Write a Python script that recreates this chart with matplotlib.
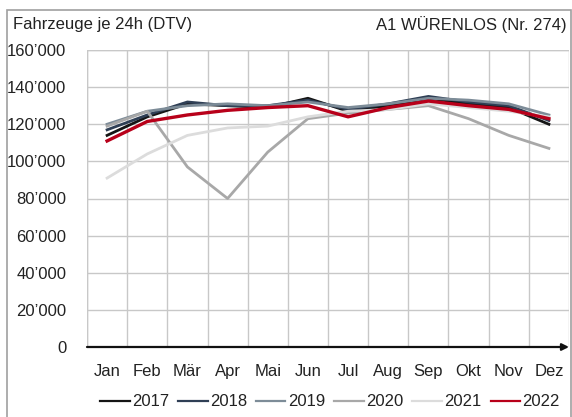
import matplotlib
matplotlib.use('Agg')
import matplotlib.pyplot as plt
import matplotlib.patches as patches
from matplotlib.ticker import FuncFormatter, MultipleLocator
import numpy as np

plt.rcParams['font.family'] = ['Liberation Sans', 'DejaVu Sans']

months = ['Jan', 'Feb', 'Mär', 'Apr', 'Mai', 'Jun', 'Jul', 'Aug', 'Sep', 'Okt', 'Nov', 'Dez']

## DTV per month
dtv_2017 = [114000, 124000, 131000, 130000, 129000, 134000, 127000, 130000, 134000, 131000, 129000, 120000]
dtv_2018 = [117000, 125000, 132000, 130000, 130000, 133000, 128000, 131000, 135000, 132000, 130000, 122000]
dtv_2019 = [120000, 127000, 130000, 131000, 130000, 132000, 129000, 131000, 134000, 133000, 131000, 125000]
dtv_2020 = [119000, 127000, 97000, 80000, 105000, 123000, 126000, 128000, 130000, 123000, 114000, 107000]
dtv_2021 = [91000, 104000, 114000, 118000, 119000, 124000, 127000, 128000, 131000, 129000, 127000, 124000]
dtv_2022 = [111000, 121500, 125000, 127500, 129000, 130000, 124000, 129000, 132500, 130000, 128000, 123000]

years = ['2017', '2018', '2019', '2020', '2021', '2022']
series = [dtv_2017, dtv_2018, dtv_2019, dtv_2020, dtv_2021, dtv_2022]
colors = ['#151515', '#2f3f55', '#7d8c98', '#a8a8a8', '#dcdcdc', '#b8001a']
widths = [2.0, 2.0, 2.0, 2.0, 2.0, 2.4]

W, H = 572, 417
fig = plt.figure(figsize=(W / 100, H / 100), dpi=100)
ax = fig.add_axes([87 / W, 1 - 347 / H, (569 - 87) / W, (347 - 50) / H])

x = np.arange(len(months))
for yr, vals, co, lw in zip(years, series, colors, widths):
    ax.plot(x, vals, color=co, linewidth=lw, label=yr, solid_joinstyle='round')

ax.set_xlim(-0.5, 11.5)
ax.set_ylim(0, 160000)
ax.set_xticks(x)
ax.set_xticklabels(months)
ax.xaxis.set_minor_locator(MultipleLocator(1, offset=0.5))
ax.yaxis.set_major_locator(MultipleLocator(20000))
ax.yaxis.set_major_formatter(FuncFormatter(lambda v, p: '{:,.0f}'.format(v).replace(',', '\u2019')))
ax.tick_params(axis='both', which='both', length=0, labelsize=12, colors='#222222')
ax.tick_params(axis='y', pad=15)
ax.tick_params(axis='x', pad=12)
ax.grid(True, axis='y', which='major', color='#c8c8c8', linewidth=1)
ax.grid(True, axis='x', which='minor', color='#c8c8c8', linewidth=1)
ax.set_axisbelow(True)
for s in ax.spines.values():
    s.set_visible(False)
ax.axvline(-0.5, color='#c8c8c8', linewidth=1, zorder=0)
ax.axhline(160000, color='#c8c8c8', linewidth=1, zorder=0)

## x axis with arrow
ax.annotate('', xy=(1.0, 0), xytext=(0, 0), xycoords='axes fraction',
            arrowprops=dict(arrowstyle='-|>', color='#111111', lw=1.6,
                            mutation_scale=10, shrinkA=0, shrinkB=0))

## outer frame
frame = patches.Rectangle((7 / W, -0.05), (571 - 7) / W, 1.05 - 10 / H,
                          transform=fig.transFigure, fill=False,
                          edgecolor='#a0a0a0', linewidth=1.2)
fig.patches.append(frame)

fig.text(13 / W, 1 - 25 / H, 'Fahrzeuge je 24h (DTV)', fontsize=12,
         color='#222222', ha='left', va='center')
fig.text(567 / W, 1 - 25 / H, 'A1 WÜRENLOS (Nr. 274)', fontsize=12,
         color='#222222', ha='right', va='center')

leg = fig.legend(loc='center', bbox_to_anchor=(330 / W, 1 - 402 / H), ncol=6,
                 frameon=False, fontsize=12, handlelength=1.75, handletextpad=0.15,
                 columnspacing=0.55, labelcolor='#222222')
for h in leg.get_lines():
    h.set_linewidth(1.6)

fig.savefig('out.png', dpi=100)
